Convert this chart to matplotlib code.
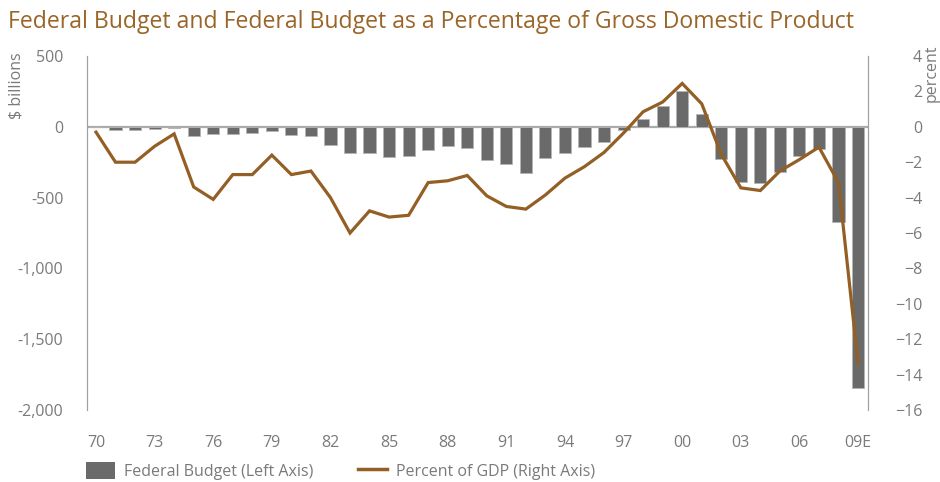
import matplotlib
matplotlib.use("Agg")
import matplotlib.pyplot as plt
from matplotlib.patches import Patch
from matplotlib.lines import Line2D
from matplotlib.ticker import FuncFormatter

plt.rcParams['font.family'] = ['Open Sans', 'DejaVu Sans']

years = list(range(1970, 2010))

# federal budget, $ billions (left axis)
budget = [-3, -23, -23, -15, -6, -62, -52, -52, -42, -30,
          -56, -68, -129, -186, -183, -212, -205, -165, -136, -152,
          -235, -263, -325, -219, -183, -143, -108, -22, 52, 148,
          254, 90, -228, -387, -395, -318, -207, -160, -673, -1843]

# budget as percent of GDP (right axis)
pct_gdp = [-0.3, -2.0, -2.0, -1.1, -0.4, -3.4, -4.1, -2.7, -2.7, -1.6,
           -2.7, -2.5, -4.0, -6.0, -4.75, -5.1, -5.0, -3.15, -3.05, -2.75,
           -3.9, -4.5, -4.65, -3.85, -2.9, -2.25, -1.45, -0.35, 0.85, 1.4,
           2.45, 1.3, -1.55, -3.45, -3.6, -2.5, -1.85, -1.15, -3.15, -13.35]

xtick_years = list(range(1970, 2010, 3))
xtick_labels = ['70', '73', '76', '79', '82', '85', '88', '91', '94', '97',
                '00', '03', '06', '09E']

bar_col = '#6a6a6a'
line_col = '#935f24'
txt_col = '#7a7a7a'
axis_col = '#a0a0a0'

fig = plt.figure(figsize=(9.4, 4.82), dpi=100)
ax = fig.add_axes([87/940, 1-410/482, (868-87)/940, (410-56)/482])
ax2 = ax.twinx()

ax.bar(years, budget, width=0.62, color=bar_col, edgecolor='#b5b5b5', linewidth=0.6, zorder=2)
ax.axhline(0, color='#aaaaaa', lw=1.6, zorder=1)
ax2.plot(years, pct_gdp, color=line_col, lw=2.3, solid_joinstyle='miter')

ax.set_xlim(1969.54, 2009.51)
ax.set_ylim(-2000, 500)
ax2.set_ylim(-16, 4)

ax.set_yticks(range(-2000, 501, 500))
ax.yaxis.set_major_formatter(FuncFormatter(lambda v, p: f'{int(v):,}'))
ax2.set_yticks(range(-16, 5, 2))
ax.set_xticks(xtick_years)
ax.set_xticklabels(xtick_labels)

for a in (ax, ax2):
    for s in ('top', 'bottom'):
        a.spines[s].set_visible(False)
    a.spines['left'].set_color(axis_col)
    a.spines['right'].set_color(axis_col)
    a.tick_params(length=0, labelsize=11.5, labelcolor=txt_col)
ax.tick_params(axis='y', pad=17)
ax.tick_params(axis='x', pad=18)
ax2.tick_params(axis='y', pad=39)
for lab in ax2.get_yticklabels():
    lab.set_horizontalalignment('right')

fig.text(8/940, 1 - 22/482, 'Federal Budget and Federal Budget as a Percentage of Gross Domestic Product',
         fontsize=16.6, color='#9a6528', va='center')

fig.text(16/940, 1 - 52/482, '$ billions', rotation=90, ha='center', va='top',
         fontsize=11.5, color=txt_col)
fig.text(932/940, 1 - 45/482, 'percent', rotation=90, ha='center', va='top',
         fontsize=11.5, color=txt_col)

handles = [Patch(facecolor=bar_col, edgecolor='none'),
           Line2D([], [], color=line_col, lw=2.5)]
fig.legend(handles, ['Federal Budget (Left Axis)', 'Percent of GDP (Right Axis)'],
           loc='center left', bbox_to_anchor=(80/940, 1 - 471/482), ncol=2, frameon=False,
           fontsize=11.5, labelcolor=txt_col, handlelength=1.8, handleheight=1.3,
           handletextpad=0.55, columnspacing=2.8, borderaxespad=0)

fig.savefig('out.png', dpi=100)
